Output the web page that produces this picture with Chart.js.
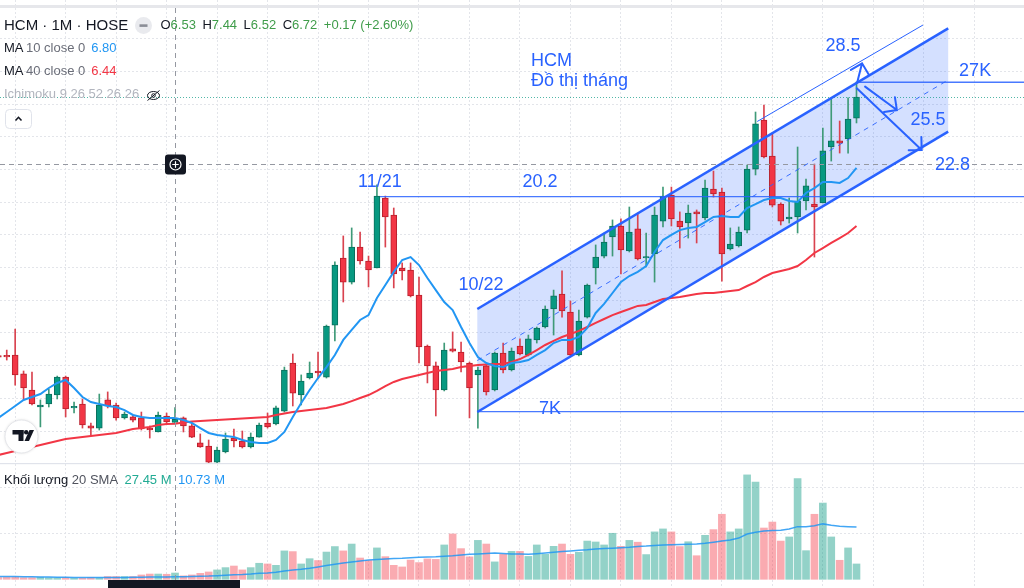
<!DOCTYPE html>
<html><head><meta charset="utf-8">
<script src="https://cdn.jsdelivr.net/npm/chart.js@4.4.1/dist/chart.umd.min.js"></script>
<style>html,body{margin:0;padding:0;background:#fff;overflow:hidden}canvas{display:block}</style>
</head><body>
<canvas id="c" width="1024" height="588" style="width:1024px;height:588px"></canvas>
<script>
// ---------- DATA (monthly, HCM, thousand VND) ----------
const months = [
 "02/18","03/18","04/18","05/18","06/18","07/18","08/18","09/18","10/18","11/18","12/18",
 "01/19","02/19","03/19","04/19","05/19","06/19","07/19","08/19","09/19","10/19","11/19","12/19",
 "01/20","02/20","03/20","04/20","05/20","06/20","07/20","08/20","09/20","10/20","11/20","12/20",
 "01/21","02/21","03/21","04/21","05/21","06/21","07/21","08/21","09/21","10/21","11/21","12/21",
 "01/22","02/22","03/22","04/22","05/22","06/22","07/22","08/22","09/22","10/22","11/22","12/22",
 "01/23","02/23","03/23","04/23","05/23","06/23","07/23","08/23","09/23","10/23","11/23","12/23",
 "01/24","02/24","03/24","04/24","05/24","06/24","07/24","08/24","09/24","10/24","11/24","12/24",
 "01/25","02/25","03/25","04/25","05/25","06/25","07/25","08/25","09/25","10/25","11/25","12/25",
 "01/26","02/26","03/26","04/26","05/26","06/26","07/26","08/26"];
const openP = [10.58,10.59,10.65,9.49,8.51,7.47,7.65,8.20,9.30,7.41,7.65,6.31,6.18,7.90,7.59,6.80,6.86,6.80,6.18,5.94,6.92,
 6.53,6.80,6.31,5.27,5.08,4.10,4.72,5.57,5.39,5.02,5.63,6.49,6.43,7.22,10.16,8.20,9.24,9.67,9.30,12.48,
 16.58,15.11,17.25,16.40,15.97,20.25,19.21,15.97,15.85,14.32,11.20,9.98,8.51,11.02,10.83,10.16,9.43,9.98,8.51,10.77,
 9.73,11.20,10.65,11.57,12.36,13.46,14.38,13.28,10.65,12.97,15.97,16.70,17.87,18.54,17.01,18.36,16.58,16.83,18.84,20.43,
 18.84,18.72,19.40,19.03,20.80,20.62,17.13,17.32,18.29,22.02,25.02,22.82,19.88,18.97,19.09,20.07,19.88,19.95,23.37,23.74,23.86,25.14];
const highP = [10.62,10.95,12.24,9.67,9.61,7.90,8.57,9.36,9.36,7.77,7.96,6.49,8.26,8.39,7.71,7.16,6.98,7.16,6.31,7.16,7.10,
 7.44,6.86,6.49,5.82,5.45,5.02,5.88,6.12,6.00,5.88,6.49,7.10,7.53,9.91,10.71,9.43,10.22,10.83,12.48,16.34,
 17.93,18.42,18.17,16.70,21.05,20.37,19.64,16.28,16.28,15.42,11.26,10.22,11.38,12.06,11.44,10.22,9.91,10.04,10.83,11.38,
 11.08,11.63,11.87,12.36,13.65,14.62,15.79,13.95,13.40,14.99,17.38,18.11,18.91,18.97,19.70,19.33,18.11,19.70,20.92,20.92,
 19.40,19.82,19.52,21.35,21.90,20.86,18.42,18.48,22.27,25.51,25.94,24.23,19.95,20.25,23.37,21.41,22.33,24.53,26.37,24.96,26.37,27.35];
const lowP = [10.45,10.34,8.81,7.90,7.59,6.25,7.47,7.96,6.86,7.10,6.18,5.76,6.06,7.41,6.67,6.73,6.55,6.06,5.57,5.94,6.49,
 6.52,5.94,5.60,5.00,4.04,4.04,4.66,5.02,4.96,4.96,5.63,6.18,6.37,7.16,7.53,7.59,9.18,9.18,9.24,11.51,
 13.89,14.99,16.21,14.81,15.97,17.25,14.75,15.24,14.20,10.16,8.94,6.92,8.45,10.83,9.61,6.80,6.18,8.20,8.45,9.55,
 9.67,10.65,10.59,11.38,12.30,11.87,12.97,10.60,10.59,12.91,14.99,16.58,16.70,15.60,16.95,16.46,16.03,15.11,18.48,18.54,
 17.19,17.80,17.50,18.91,20.31,15.17,17.07,17.25,18.11,21.66,22.70,19.70,18.60,18.72,18.11,19.52,16.64,19.95,22.51,23.00,23.00,24.84];
const closeP = [10.52,10.53,9.43,8.63,7.65,7.59,8.26,9.30,7.35,7.47,6.37,6.18,7.59,7.53,6.80,7.04,6.67,6.12,6.06,6.98,6.55,
 6.72,6.31,5.63,5.02,4.10,4.84,5.51,5.39,5.02,5.63,6.37,6.25,7.41,9.73,8.32,9.06,9.55,9.55,12.42,16.15,
 15.11,17.25,16.40,15.85,20.37,19.09,15.60,15.79,14.26,11.14,9.98,8.51,10.95,10.89,10.22,8.63,9.73,8.39,10.77,9.73,
 10.89,10.71,11.63,12.30,13.46,14.26,13.34,10.65,12.73,14.93,16.64,17.56,18.54,17.07,18.17,16.52,16.64,19.21,20.37,18.97,
 18.48,19.33,19.27,20.86,20.50,16.83,17.44,18.17,22.02,24.78,22.76,19.82,18.84,19.09,20.07,20.99,19.70,23.13,23.74,23.61,25.08,26.43];
const volumeM = [8,9,9,7,7,9,7,6,7,3,4,7,6,12,12,12,12,19,23,23,22,
 27.45,15,19,26,32,41,51,58,41,51,70,67,61,124,121,67,90,82,119,143,
 124,154,93,82,137,99,61,54,84,73,89,87,150,198,134,98,170,154,76,109,
 122,122,100,150,109,144,154,109,118,167,163,150,201,144,170,162,108,207,220,207,
 143,164,103,192,217,284,207,220,456,425,224,250,167,185,440,125,284,333,185,83,137,67];
const ma10 = [6.80,7.16,7.53,7.90,8.08,8.26,8.63,8.94,9.12,8.63,8.08,7.77,7.65,7.53,7.47,7.28,6.98,6.86,6.80,6.80,6.80,
 6.80,6.67,6.49,6.18,5.88,5.76,5.70,5.63,5.45,5.33,5.27,5.27,5.45,5.94,6.86,7.71,8.51,9.24,9.91,10.65,
 11.57,12.18,12.79,13.09,14.13,14.93,15.73,16.46,16.64,16.15,15.36,14.62,13.89,13.40,12.36,11.38,10.53,10.16,9.98,9.91,
 10.16,10.22,10.34,10.65,10.95,11.38,11.57,11.57,11.75,12.30,13.22,13.77,14.44,15.11,15.48,15.73,16.09,16.95,17.68,17.99,
 18.29,18.42,18.48,18.78,19.09,19.15,19.09,19.09,19.64,19.88,20.13,20.25,20.25,20.07,20.01,20.56,20.86,21.23,21.23,21.17,21.47,22.09];
const ma40 = [4.53,4.66,4.78,4.90,5.02,5.14,5.27,5.39,5.51,5.57,5.63,5.70,5.76,5.82,5.88,6.00,6.12,6.18,6.25,6.37,6.43,
 6.44,6.52,6.58,6.61,6.64,6.67,6.70,6.73,6.76,6.80,6.83,6.86,6.98,7.07,7.16,7.22,7.28,7.35,7.41,7.53,
 7.65,7.83,8.02,8.20,8.45,8.75,9.00,9.18,9.30,9.43,9.55,9.67,9.73,9.79,9.91,9.98,10.04,10.07,10.10,10.10,
 10.22,10.40,10.65,10.95,11.26,11.51,11.75,11.93,12.12,12.36,12.61,12.85,13.09,13.28,13.46,13.65,13.71,13.89,14.07,14.13,
 14.20,14.29,14.38,14.44,14.44,14.50,14.56,14.62,14.87,15.11,15.42,15.66,15.79,15.91,16.09,16.46,16.89,17.19,17.50,17.80,18.11,18.54];
const volSma20 = [12,12,12,11,11,10,10,9,9,8,8,8,8,8,8,8,9,9,10,10,10,
 10.73,11,12,13,14,16,18,20,21,23,26,28,31,36,41,44,48,54,60,66,
 71,76,80,84,87,89,91,92,94,96,97,98,101,103,106,109,111,113,115,113,
 111,110,109,112,115,118,121,124,127,129,132,134,136,138,140,143,145,148,150,151,
 152,153,154,157,162,167,172,180,198,205,211,213,214,220,230,230,234,242,236,232,230,228];

// ---------- Drawings (month-index, price) ----------
const channelX = [56.93, 112.9];
const channelTop = [13.46, 30.63];
const channelMid = [10.31, 27.47];
const channelBot = [7.16, 24.31];
const thinLine = [[90.2, 24.93], [109.9, 30.83]];
const hLines = [[45.36, 20.33], [56.93, 7.18], [102.06, 27.33]];
const arrows = [[102.07, 27.28, 102.66, 28.49], [103.02, 27.06, 106.8, 25.63], [102.03, 26.96, 109.75, 23.19]];
const labels = [["11/21", 45.36, 21.23], ["10/22", 57.37, 14.93], ["20.2", 64.39, 21.23], ["7K", 65.57, 7.35],
  ["28.5", 100.4, 29.55], ["25.5", 110.5, 25.02], ["22.8", 113.4, 22.27], ["27K", 116.1, 28.02]];
const titleLines = [["HCM", 63.31, 28.60], ["Đồ thị tháng", 63.31, 27.38]];
const crossK = 21, crossP = 22.35;

// ---------- styles ----------
const UP = '#089981', DN = '#f23645';
const BLUE = '#2962ff';
const isUp = closeP.map((c, k) => c >= openP[k]);
const FONT = '"Liberation Sans", Arial, sans-serif';

const wickData = months.map((m, k) => ({x: k, y: [lowP[k], highP[k]]}));
const bodyData = months.map((m, k) => ({x: k, y: [openP[k], closeP[k]]}));
const volData = months.map((m, k) => ({x: k, y: volumeM[k]}));
const line = arr => arr.map((v, k) => ({x: k, y: v}));

const bgPlugin = {
  id: 'bg',
  beforeDraw(chart) {
    const c = chart.ctx;
    c.save(); c.fillStyle = '#fff'; c.fillRect(0, 0, 1024, 588); c.restore();
  }
};

const fillPlugin = {
  id: 'channelFill',
  beforeDatasetsDraw(chart) {
    const c = chart.ctx, X = v => chart.scales.x.getPixelForValue(v), Y = v => chart.scales.y.getPixelForValue(v);
    c.save();
    c.fillStyle = 'rgba(41,98,255,0.2)';
    c.beginPath();
    c.moveTo(X(channelX[0]), Y(channelTop[0]));
    c.lineTo(X(channelX[1]), Y(channelTop[1]));
    c.lineTo(X(channelX[1]), Y(channelBot[1]));
    c.lineTo(X(channelX[0]), Y(channelBot[0]));
    c.closePath(); c.fill();
    c.restore();
  }
};

const annoPlugin = {
  id: 'anno',
  afterDatasetsDraw(chart) {
    const c = chart.ctx, xs = chart.scales.x, X = v => xs.getPixelForValue(v), Y = v => chart.scales.y.getPixelForValue(v);
    const W = 1024;
    c.save();
    // last price line
    c.strokeStyle = 'rgba(8,153,129,0.7)'; c.lineWidth = 1; c.setLineDash([1, 2]);
    const yl = Math.round(Y(closeP[closeP.length - 1])) + 0.5;
    c.beginPath(); c.moveTo(0, yl); c.lineTo(W, yl); c.stroke();
    // crosshair
    c.strokeStyle = '#9598a1'; c.setLineDash([5, 4]);
    const cx = Math.round(X(crossK)) + 0.5, cy = Math.round(Y(crossP)) + 0.5;
    c.beginPath(); c.moveTo(cx, 8); c.lineTo(cx, 588); c.stroke();
    c.beginPath(); c.moveTo(0, cy); c.lineTo(W, cy); c.stroke();
    c.setLineDash([]);
    // horizontal lines
    c.strokeStyle = 'rgba(41,98,255,0.85)'; c.lineWidth = 1.3;
    hLines.forEach(([k, p]) => { c.beginPath(); c.moveTo(X(k), Y(p)); c.lineTo(W, Y(p)); c.stroke(); });
    // channel mid dashed
    c.lineWidth = 1; c.setLineDash([5, 5]); c.strokeStyle = 'rgba(41,98,255,0.9)';
    c.beginPath(); c.moveTo(X(channelX[0]), Y(channelMid[0])); c.lineTo(X(channelX[1]), Y(channelMid[1])); c.stroke();
    c.setLineDash([]);
    // channel borders
    c.strokeStyle = BLUE; c.lineWidth = 2.5;
    c.beginPath(); c.moveTo(X(channelX[0]), Y(channelTop[0])); c.lineTo(X(channelX[1]), Y(channelTop[1])); c.stroke();
    c.beginPath(); c.moveTo(X(channelX[0]), Y(channelBot[0])); c.lineTo(X(channelX[1]), Y(channelBot[1])); c.stroke();
    // thin parallel
    c.lineWidth = 1;
    c.beginPath(); c.moveTo(X(thinLine[0][0]), Y(thinLine[0][1])); c.lineTo(X(thinLine[1][0]), Y(thinLine[1][1])); c.stroke();
    // arrows
    c.lineWidth = 2; c.lineCap = 'round';
    arrows.forEach(([k0, p0, k1, p1]) => {
      const x0 = X(k0), y0 = Y(p0), x1 = X(k1), y1 = Y(p1);
      const a = Math.atan2(y1 - y0, x1 - x0), L = 13;
      c.beginPath(); c.moveTo(x0, y0); c.lineTo(x1, y1);
      c.moveTo(x1 + L * Math.cos(a + Math.PI - Math.PI / 4), y1 + L * Math.sin(a + Math.PI - Math.PI / 4));
      c.lineTo(x1, y1);
      c.lineTo(x1 + L * Math.cos(a + Math.PI + Math.PI / 4), y1 + L * Math.sin(a + Math.PI + Math.PI / 4));
      c.stroke();
    });
    // labels
    c.fillStyle = BLUE; c.font = '18px ' + FONT; c.textAlign = 'center'; c.textBaseline = 'middle';
    labels.forEach(([t, k, p]) => c.fillText(t, X(k), Y(p)));
    c.textAlign = 'left';
    titleLines.forEach(([t, k, p]) => c.fillText(t, X(k), Y(p)));
    // crosshair marker
    c.fillStyle = '#131722';
    c.beginPath(); c.roundRect(cx - 10.5, cy - 10, 21, 20, 3); c.fill();
    c.strokeStyle = '#fff'; c.lineWidth = 1.2;
    c.beginPath(); c.arc(cx, cy, 5.5, 0, Math.PI * 2); c.stroke();
    c.beginPath(); c.moveTo(cx - 2.8, cy); c.lineTo(cx + 2.8, cy); c.moveTo(cx, cy - 2.8); c.lineTo(cx, cy + 2.8); c.stroke();
    c.restore();
  }
};

const uiPlugin = {
  id: 'ui',
  afterDraw(chart) {
    const c = chart.ctx;
    c.save();
    // top strip and pane separator
    c.fillStyle = '#e6e7eb'; c.fillRect(0, 5, 1024, 3);
    c.fillStyle = '#e0e3eb'; c.fillRect(0, 463, 1024, 1.2);
    c.textBaseline = 'middle'; c.textAlign = 'left';
    // row 1
    c.font = '15px ' + FONT; c.fillStyle = '#131722';
    c.fillText('HCM · 1M · HOSE', 4, 25.5);
    c.fillStyle = '#e9eaee'; c.beginPath(); c.arc(143.5, 25.5, 8.5, 0, Math.PI * 2); c.fill();
    c.fillStyle = '#8a8d96'; c.fillRect(139.5, 24.3, 8, 2.6);
    const k = crossK, GREEN = '#3f9c4a';
    const chg = closeP[k] - closeP[k - 1], pct = chg / closeP[k - 1] * 100;
    const items = [['O', openP[k].toFixed(2)], ['H', highP[k].toFixed(2)], ['L', lowP[k].toFixed(2)], ['C', closeP[k].toFixed(2)],
      ['', (chg >= 0 ? '+' : '') + chg.toFixed(2) + ' (' + (pct >= 0 ? '+' : '') + pct.toFixed(2) + '%)']];
    c.font = '13px ' + FONT;
    let x = 160.5;
    items.forEach(([l, v]) => {
      c.fillStyle = '#131722'; c.fillText(l, x, 25.5); x += c.measureText(l).width;
      c.fillStyle = GREEN; c.fillText(v, x, 25.5); x += c.measureText(v).width + 6.5;
    });
    // MA rows
    const maRow = (y, n, val, col) => {
      c.fillStyle = '#131722'; c.fillText('MA', 4, y);
      c.fillStyle = '#6a6d78'; c.fillText(n + ' close 0', 26, y);
      c.fillStyle = col; c.fillText(val, 26 + c.measureText(n + ' close 0').width + 6, y);
    };
    maRow(48.5, '10', ma10[k].toFixed(2), '#2196f3');
    maRow(71.5, '40', ma40[k].toFixed(2), '#f23645');
    c.fillStyle = '#b2b5be'; c.fillText('Ichimoku 9 26 52 26 26', 4, 94.5);
    // eye-slash icon
    c.strokeStyle = '#131722'; c.lineWidth = 1;
    c.beginPath(); c.ellipse(153.5, 95.5, 6, 4, 0, 0, Math.PI * 2); c.stroke();
    c.beginPath(); c.arc(153.5, 95.5, 1.8, 0, Math.PI * 2); c.stroke();
    c.beginPath(); c.moveTo(147.5, 100.5); c.lineTo(159.5, 90.5); c.stroke();
    // collapse button
    c.strokeStyle = '#e0e3eb'; c.beginPath(); c.roundRect(5.5, 109.5, 26, 19, 4); c.stroke();
    c.strokeStyle = '#131722'; c.lineWidth = 1.6;
    c.beginPath(); c.moveTo(15.5, 120.5); c.lineTo(18.5, 117.3); c.lineTo(21.5, 120.5); c.stroke();
    // volume legend
    c.font = '13px ' + FONT;
    c.fillStyle = '#131722'; c.fillText('Khối lượng', 4, 480);
    let vx = 4 + c.measureText('Khối lượng ').width;
    c.fillStyle = '#50535e'; c.fillText('20 SMA', vx, 480); vx += c.measureText('20 SMA').width + 6.5;
    c.fillStyle = '#22ab94'; c.fillText(volumeM[k].toFixed(2) + ' M', vx, 480); vx += c.measureText(volumeM[k].toFixed(2) + ' M').width + 6.5;
    c.fillStyle = '#2196f3'; c.fillText(volSma20[k].toFixed(2) + ' M', vx, 480);
    // TradingView logo badge
    c.shadowColor = 'rgba(0,0,0,0.15)'; c.shadowBlur = 3;
    c.fillStyle = '#fff'; c.beginPath(); c.arc(21.5, 436.5, 16.5, 0, Math.PI * 2); c.fill();
    c.shadowBlur = 0; c.strokeStyle = '#e6e7eb'; c.lineWidth = 1; c.stroke();
    c.fillStyle = '#131722';
    c.fillRect(12.5, 430, 11, 4.5); c.fillRect(18.5, 430, 5, 11);
    c.beginPath(); c.arc(26.2, 432.2, 2.2, 0, Math.PI * 2); c.fill();
    c.beginPath(); c.moveTo(29.5, 430); c.lineTo(34, 430); c.lineTo(29, 441); c.lineTo(24.5, 441); c.closePath(); c.fill();
    // bottom black bar
    c.fillStyle = '#131722'; c.fillRect(108, 580, 132, 8);
    c.restore();
  }
};

const gridColor = '#e3e5ea';
new Chart(document.getElementById('c'), {
  type: 'bar',
  data: {
    labels: months,
    datasets: [
      {type: 'line', data: line(ma10), borderColor: '#2196f3', borderWidth: 2, pointRadius: 0, yAxisID: 'y', order: 0},
      {type: 'line', data: line(ma40), borderColor: '#f23645', borderWidth: 2, pointRadius: 0, yAxisID: 'y', order: 1},
      {type: 'line', data: line(volSma20), borderColor: 'rgba(33,150,243,0.85)', borderWidth: 1.5, pointRadius: 0, yAxisID: 'yv', order: 1},
      {data: bodyData, yAxisID: 'y', grouped: false, barThickness: 6, minBarLength: 1.5, borderSkipped: false, borderWidth: 1,
        backgroundColor: isUp.map(u => u ? UP : DN), borderColor: isUp.map(u => u ? '#0b6f5d' : '#b8202d'), order: 2},
      {data: wickData, yAxisID: 'y', grouped: false, barThickness: 1, borderWidth: 0,
        backgroundColor: isUp.map(u => u ? '#3f9a78' : '#d9434f'), order: 3},
      {data: volData, yAxisID: 'yv', grouped: false, barThickness: 7, borderWidth: 0, minBarLength: 1,
        backgroundColor: isUp.map(u => u ? 'rgba(8,153,129,0.44)' : 'rgba(242,54,69,0.42)'), order: 4}
    ]
  },
  options: {
    responsive: false, animation: false, events: [],
    layout: {padding: 0},
    plugins: {legend: {display: false}, tooltip: {enabled: false}},
    scales: {
      x: {type: 'linear', min: 0.198, max: 121.91, offset: false,
        ticks: {display: false}, grid: {color: gridColor, drawTicks: false}, border: {display: false, dash: [2, 2]},
        afterBuildTicks: s => { const t = []; for (let v = 5; v <= s.max; v += 6) t.push({value: v}); s.ticks = t; },
        afterFit: s => { s.height = 0; }},
      y: {type: 'linear', position: 'left', min: -3.602, max: 32.361,
        ticks: {display: false}, grid: {color: gridColor, drawTicks: false}, border: {display: false, dash: [2, 2]},
        afterBuildTicks: s => { const t = []; for (let v = 6; v <= 32; v += 2) t.push({value: v}); s.ticks = t; },
        afterFit: s => { s.width = 0; }},
      yv: {type: 'linear', position: 'left', min: -38, max: 2530,
        ticks: {display: false}, grid: {color: gridColor, drawTicks: false}, border: {display: false, dash: [2, 2]},
        afterBuildTicks: s => { s.ticks = [{value: 200}, {value: 400}]; },
        afterFit: s => { s.width = 0; }}
    }
  },
  plugins: [bgPlugin, fillPlugin, annoPlugin, uiPlugin]
});
</script>
</body></html>
